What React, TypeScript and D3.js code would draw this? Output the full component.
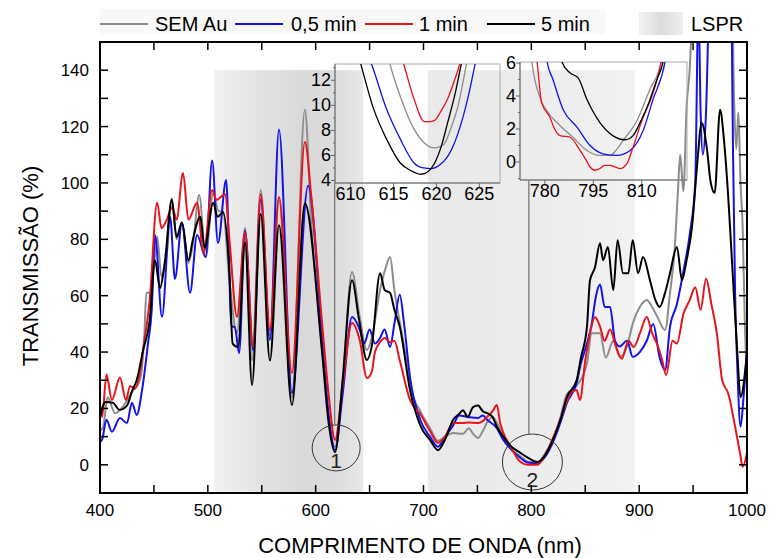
import React from "react";
import * as d3 from "d3";

// ---- main spectra (wavelength nm, transmission %) ----
const semAuNm = [400, 403, 407, 414, 421, 430, 437, 441, 443, 447, 450, 453, 457, 462, 466.6, 471, 476, 482, 486, 492, 498, 505, 510, 514, 520, 527, 534.5, 541, 549, 557.6, 566, 578, 590, 596, 606, 612, 618, 625, 633.7, 641, 647.5, 652, 659.7, 665, 669, 673, 678, 683, 687.5, 697, 706, 713.5, 720, 727.5, 736.6, 742, 746, 750.6, 755, 759, 764, 768, 774, 780, 790, 797, 805.5, 812, 820, 827, 833, 842, 851.6, 856, 863.7, 869, 876, 882, 888.7, 894, 900.6, 907, 912, 917, 924, 928.6, 933, 936, 938, 941, 944, 947, 950, 955, 985, 988, 990, 992, 994, 996, 998, 1000];
const semAuT = [12, 13.5, 24, 18.3, 20.5, 26, 30, 45, 61, 61, 70, 81, 66.7, 75, 94.6, 80, 86, 71.6, 78, 95.7, 73.7, 96.3, 90, 90, 65.5, 46.7, 84, 37, 97.5, 46, 94, 24, 126, 85, 41, 17, 6.5, 30, 68.4, 52, 40.7, 45, 62, 70, 73.7, 62, 50.5, 40, 28, 19, 13, 8.5, 10, 11.3, 11, 13, 11, 9.5, 12, 15, 17, 15, 9.5, 6, 3, 1, 0.8, 3.5, 9, 17, 25, 28, 36, 46.7, 46.7, 38, 44, 38.3, 42, 50, 56, 58.5, 56, 52.4, 47.8, 61, 77, 97.5, 110, 97, 127, 141, 170, 200, 200, 130, 112, 125, 100, 84, 50, 30];

const min05Nm = [400, 402, 406, 411, 418.5, 425, 429.6, 434, 439, 444.5, 448, 451, 457.5, 465, 469.5, 476, 483.5, 490, 498, 504, 509.4, 517, 522, 525, 529, 534.5, 542, 549, 557.6, 566, 578, 593, 606, 612, 618, 625, 633.7, 641, 645, 650, 655, 659.7, 664, 669, 673, 678, 682, 687.5, 697, 706, 713.5, 720, 727.5, 733, 741, 750.6, 755, 759, 768, 774, 780, 790, 797, 805.5, 812, 820, 827, 833, 842, 846, 851.6, 856, 860, 863.7, 868, 873, 877.6, 882, 888.7, 894, 900.6, 907, 913, 919, 924, 928.6, 935, 940.7, 947, 952, 955, 957, 959, 962, 965, 975, 984, 986, 987, 989, 991, 994, 997, 1000];
const min05T = [8, 9, 16, 11.7, 16.6, 14.8, 22, 17.7, 26.5, 43, 55, 81.5, 52.5, 88, 66, 85.7, 61, 81.5, 73.7, 108, 78.7, 101, 49, 49, 39.6, 83, 40.7, 94, 44.3, 119, 25.5, 99, 45, 18, 5.2, 25, 52.4, 47.8, 43, 48, 43, 45, 48, 41.8, 50, 60.3, 50, 31, 16, 10, 6.4, 10, 14, 17.5, 17, 16.6, 17.5, 16, 13, 8.8, 6, 2.4, 0.8, 0.5, 2.5, 8, 15, 22, 29, 36, 43, 50, 60, 64, 56, 56, 44, 42, 44, 38.3, 40, 44, 50, 38, 33.6, 49, 57, 68, 82, 100, 165, 125, 110, 125, 165, 200, 190, 150, 112, 60, 35, 13.5, 25, 40];

const min1Nm = [400, 402, 406, 411, 418.5, 424, 428, 432, 437, 440, 446, 453, 457, 462, 467, 471, 477, 482, 490, 496, 504, 508, 516, 520, 527, 534.5, 542, 549, 557.6, 566, 578, 590, 596, 606, 612, 618, 625, 633.7, 641, 647.5, 652, 655, 659.7, 664, 669, 673, 678, 687.5, 697, 706, 713.5, 720, 727.5, 736.6, 741, 750.6, 755, 759, 764, 768, 771, 774, 780, 790, 797, 805.5, 812, 820, 827, 833, 838, 842, 845, 850, 854.4, 859, 863.7, 868, 873, 878, 884, 890, 895, 901, 907, 912, 917, 921, 925, 931, 935, 941, 947, 952, 957, 962, 967, 972, 977, 982.6, 989, 993.5, 996, 1000];
const min1T = [20, 17, 32, 23, 31, 23, 28, 27, 32.6, 41, 58, 93, 84, 87, 91.5, 87, 103.5, 87, 93, 75, 97.5, 94, 96, 80, 52.5, 82.6, 41.8, 96, 47.8, 95, 32.6, 114.5, 95, 50, 25, 8.8, 28, 50.3, 44, 30.8, 33, 40, 43.5, 45, 43.5, 44, 37, 23, 18, 12, 7.8, 10, 14.8, 14.8, 15, 14.8, 15.5, 17, 19, 21.2, 15, 11.3, 7, 1, 0, 0, 3, 9.5, 16, 22.6, 26, 26.5, 23, 37, 46.7, 52.4, 49, 44, 48, 42.5, 37.6, 44, 41.8, 47, 52.4, 46.7, 42.5, 37.6, 31.9, 44, 43, 53.5, 58.5, 63, 55, 66, 57, 46.7, 30, 25.3, 13.5, 4.2, -0.7, 4.2];

const min5Nm = [400, 405, 412, 418, 425, 430, 434, 440, 446, 451, 455.6, 460, 466.6, 471, 476, 482, 486, 493, 497, 505, 509, 514, 520, 523, 528, 534.5, 541, 549, 557.6, 566, 578, 590, 606, 612, 618, 625, 633.7, 640, 647.5, 652, 659.7, 664, 669, 673, 678, 687.5, 697, 706, 713.5, 720, 727.5, 733, 736.6, 741, 746, 750.6, 755, 759, 764, 768, 774, 780, 790, 797, 805.5, 812, 820, 827, 833, 842, 846, 851.6, 854.4, 859, 863.7, 866.5, 871, 876, 880, 885, 890, 894, 899, 903.6, 910, 915, 919, 924, 928.6, 935, 939.7, 944, 949, 953.6, 958, 963, 966, 970, 975, 978.7, 982.6, 987, 991, 994, 1000];
const min5T = [17, 22.3, 22, 19.5, 21, 26.5, 30, 40.7, 51, 72.6, 62.7, 71.6, 94, 80.8, 86, 72.6, 79.7, 88, 77, 93, 88, 89.6, 68, 43, 41.8, 79, 28.3, 89, 37, 85, 21.2, 92.8, 39.6, 15, 4.5, 30, 65.5, 52, 37.2, 42, 68, 62, 61, 55, 49, 26.5, 14, 8.8, 5.2, 9, 16, 18, 19.4, 17, 20.5, 21, 19, 18.3, 17, 13.5, 10, 7, 4.2, 2.5, 1, 3, 8.8, 16, 24, 30, 38, 49, 65.5, 70, 78.6, 72.6, 77.3, 62, 79.7, 68, 68, 79.7, 68, 73.7, 65.5, 58.5, 56, 61, 68, 77.3, 65.5, 72.6, 84.4, 105.7, 121.3, 111.6, 101, 96.4, 126, 115, 95, 66, 40, 24, 40];

// ---- inset 1 (around 618 nm) ----
const in1SemAuNm = [614, 614.6, 615.8, 617.4, 618.6, 619.8, 620.4, 620.9, 621.7, 622.5, 623.5, 624];
const in1SemAuT = [15, 13.3, 10.7, 8.1, 7.0, 6.6, 6.7, 6.9, 8.2, 9.9, 13.3, 15];
const in1Min05Nm = [611.5, 612.6, 614.2, 615.8, 617.4, 618.5, 619.4, 620.3, 621.3, 622.1, 622.9, 623.8, 624.5, 625];
const in1Min05T = [15, 13, 9.7, 7.3, 5.4, 5.0, 4.95, 5.2, 5.9, 7, 8.6, 11, 13.3, 15];
const in1Min1Nm = [615.5, 616.2, 617.4, 618.6, 619.2, 619.8, 620.5, 621.3, 622.1, 622.7, 623.2];
const in1Min1T = [15, 13.3, 10.5, 8.7, 8.7, 8.8, 9.5, 10.5, 12, 13.3, 15];
const in1Min5Nm = [610.5, 611.2, 612.6, 614.2, 615.8, 617, 618.2, 619, 619.8, 620.6, 621.3, 622.2, 622.9, 623.5];
const in1Min5T = [15, 13.3, 9.9, 7.3, 5.4, 4.8, 4.5, 4.7, 5.4, 6.8, 8.6, 11, 13.3, 15];

// ---- inset 2 (around 800 nm) ----
const in2SemAuNm = [775.5, 776, 778.5, 781, 784.7, 788.7, 793, 797, 800.2, 802, 804.2, 808.5, 812.5, 816, 816.8];
const in2SemAuT = [7, 6.06, 3.9, 3.0, 2.2, 1.5, 0.7, 0.4, 0.4, 0.7, 1.3, 2.5, 4.4, 6.06, 7];
const in2Min05Nm = [780, 780.7, 782.5, 785.6, 790, 794, 798, 802.3, 806.4, 810.4, 813.5, 817.2, 818];
const in2Min05T = [7, 6.06, 5, 3.2, 2.1, 1.0, 0.5, 0.4, 0.7, 1.9, 3.8, 6.06, 7];
const in2Min1Nm = [777, 777.6, 779, 781.6, 783, 784.7, 787.8, 790.9, 792.5, 794, 795.5, 797, 798.5, 800.2, 801.8, 803.3, 805.4, 807.3, 810, 813.5, 816, 816.8];
const in2Min1T = [7, 6.06, 3.6, 2.7, 2.0, 1.6, 1.5, 0.7, 0.2, -0.3, -0.5, -0.4, -0.2, -0.2, -0.3, -0.4, -0.1, 0.9, 2.5, 4.2, 6.06, 7];
const in2Min5Nm = [784.5, 785.3, 787.8, 790.3, 793, 797, 801, 804.8, 807.3, 809.5, 811.6, 814.7, 816.6, 817.5];
const in2Min5T = [7, 6.06, 5.4, 5.1, 3.8, 2.4, 1.6, 1.35, 1.6, 2.4, 3.3, 5, 6.06, 7];

// ---- labels / ticks ----
const legendNames = ["SEM Au", "0,5 min", "1 min", "5 min"];
const seriesColors = ["#8c8c8c", "#1212ee", "#e8141c", "#000000"];
const xTickLabels = [400, 500, 600, 700, 800, 900, 1000];
const xTickAll = [450, 500, 550, 600, 650, 700, 750, 800, 850, 900, 950];
const yTickLabels = [0, 20, 40, 60, 80, 100, 120, 140];
const yTickAll = [0, 10, 20, 30, 40, 50, 60, 70, 80, 90, 100, 110, 120, 130, 140];
const lsprBands = [[506, 644], [704, 896]];
const lsprTop = 140;
const in1XLabels = [610, 615, 620, 625];
const in1YLabels = [4, 6, 8, 10, 12];
const in2XLabels = [780, 795, 810];
const in2YLabels = [0, 2, 4, 6];
const markers = [
  { label: "1", nm: 619, t: 6, rx: 24, ry: 23, lineNm: 617.6 },
  { label: "2", nm: 801, t: 1, rx: 30, ry: 28, lineNm: 797.7 },
];

const FONT = "'Liberation Sans', Arial, sans-serif";

function path(nm: number[], t: number[], xs: any, ys: any) {
  return d3
    .line<number>()
    .x((_, i) => xs(nm[i]))
    .y((d) => ys(d))
    .curve(d3.curveMonotoneX)(t) as string;
}

export default function App() {
  const x = d3.scaleLinear().domain([400, 1000]).range([100, 747]);
  const y = d3.scaleLinear().domain([-10, 150]).range([493, 42]);

  const main = [
    [semAuNm, semAuT],
    [min05Nm, min05T],
    [min1Nm, min1T],
    [min5Nm, min5T],
  ];
  const ins1 = [
    [in1SemAuNm, in1SemAuT],
    [in1Min05Nm, in1Min05T],
    [in1Min1Nm, in1Min1T],
    [in1Min5Nm, in1Min5T],
  ];
  const ins2 = [
    [in2SemAuNm, in2SemAuT],
    [in2Min05Nm, in2Min05T],
    [in2Min1Nm, in2Min1T],
    [in2Min5Nm, in2Min5T],
  ];

  const x1 = d3.scaleLinear().domain([608.2, 627.4]).range([335, 500]);
  const y1 = d3.scaleLinear().domain([3.8, 13.3]).range([183, 64]);
  const x2 = d3.scaleLinear().domain([772.3, 824]).range([520, 687]);
  const y2 = d3.scaleLinear().domain([-1.09, 6.06]).range([180, 62]);

  const insets = [
    { id: "in1", xs: x1, ys: y1, data: ins1, xl: in1XLabels, yl: in1YLabels, ym: [5, 7, 9, 11, 13] },
    { id: "in2", xs: x2, ys: y2, data: ins2, xl: in2XLabels, yl: in2YLabels, ym: [-1, 1, 3, 5] },
  ];

  const legendX = [100, 235, 365, 487];
  const legendTextX = [155, 291, 419, 541];

  return (
    <svg width={769} height={558} style={{ position: "absolute", left: 0, top: 0, background: "#fff" }} fontFamily={FONT}>
      <defs>
        <clipPath id="plotClip">
          <rect x={100} y={42} width={647} height={451} />
        </clipPath>
        {insets.map((s) => (
          <clipPath key={s.id} id={s.id + "Clip"}>
            <rect x={s.xs.range()[0]} y={s.ys.range()[1]} width={s.xs.range()[1] - s.xs.range()[0]} height={s.ys.range()[0] - s.ys.range()[1]} />
          </clipPath>
        ))}
        <linearGradient id="band0" x1="0" x2="1" y1="0" y2="0">
          <stop offset="0%" stopColor="#f1f1f1" />
          <stop offset="30%" stopColor="#e3e3e3" />
          <stop offset="60%" stopColor="#d9d9d9" />
          <stop offset="85%" stopColor="#dedede" />
          <stop offset="100%" stopColor="#e8e8e8" />
        </linearGradient>
        <linearGradient id="band1" x1="0" x2="1" y1="0" y2="0">
          <stop offset="0%" stopColor="#e9e9e9" />
          <stop offset="50%" stopColor="#ececec" />
          <stop offset="100%" stopColor="#f2f2f2" />
        </linearGradient>
        <linearGradient id="lsprLeg" x1="0" x2="1" y1="0" y2="0">
          <stop offset="0%" stopColor="#f2f2f2" />
          <stop offset="50%" stopColor="#dcdcdc" />
          <stop offset="100%" stopColor="#efefef" />
        </linearGradient>
      </defs>

      {/* legend */}
      <rect x={100} y={9} width={505} height={25} fill="#f8f8f8" />
      {legendNames.map((n, i) => (
        <g key={n}>
          <line x1={legendX[i]} x2={legendX[i] + 48} y1={24} y2={24} stroke={seriesColors[i]} strokeWidth={2} />
          <text x={legendTextX[i]} y={31} fontSize={20} fill="#000">{n}</text>
        </g>
      ))}
      <rect x={639} y={12} width={44} height={23} fill="url(#lsprLeg)" />
      <text x={691} y={31} fontSize={20}>LSPR</text>

      {/* LSPR bands */}
      {lsprBands.map((b, i) => (
        <rect key={i} x={x(b[0])} y={y(lsprTop)} width={x(b[1]) - x(b[0])} height={y(-10) - y(lsprTop)} fill={`url(#band${i})`} />
      ))}

      {/* main curves */}
      <g clipPath="url(#plotClip)">
        {main.map((s, i) => (
          <path key={i} d={path(s[0], s[1], x, y)} fill="none" stroke={seriesColors[i]} strokeWidth={2} strokeLinejoin="round" />
        ))}
      </g>

      {/* markers */}
      {markers.map((m, i) => (
        <g key={m.label}>
          <ellipse cx={x(m.nm)} cy={y(m.t)} rx={m.rx} ry={m.ry} fill="none" stroke="#333" strokeWidth={1} />
          <line x1={x(m.lineNm)} x2={x(m.lineNm)} y1={(i === 0 ? y1 : y2).range()[0]} y2={y(m.t) - m.ry} stroke="#777" strokeWidth={1.3} />
          <text x={x(m.nm)} y={y(m.t) + m.ry - 3} fontSize={21} textAnchor="middle" fill="#222">{m.label}</text>
        </g>
      ))}

      {/* insets */}
      {insets.map((s) => {
        const [xa, xb] = s.xs.range();
        const [yb, ya] = s.ys.range();
        return (
          <g key={s.id}>
            <rect x={xa} y={ya} width={xb - xa} height={yb - ya} fill="none" stroke="#aaa" strokeWidth={1} />
            <line x1={xa} x2={xa} y1={ya} y2={yb} stroke="#666" strokeWidth={1} />
            <line x1={xa} x2={xb} y1={yb} y2={yb} stroke="#666" strokeWidth={1} />
            <g clipPath={`url(#${s.id}Clip)`}>
              {s.data.map((d, i) => (
                <path key={i} d={path(d[0], d[1], s.xs, s.ys)} fill="none" stroke={seriesColors[i]} strokeWidth={1.3} />
              ))}
            </g>
            {s.yl.map((v) => (
              <g key={"y" + v}>
                <line x1={xa - 4} x2={xa} y1={s.ys(v)} y2={s.ys(v)} stroke="#666" />
                <text x={xa - 4} y={s.ys(v) + 6} fontSize={18} textAnchor="end">{v}</text>
              </g>
            ))}
            {s.ym.map((v) => (
              <line key={"m" + v} x1={xa - 2} x2={xa} y1={s.ys(v)} y2={s.ys(v)} stroke="#666" />
            ))}
            {s.xl.map((v) => (
              <g key={"x" + v}>
                <line x1={s.xs(v)} x2={s.xs(v)} y1={yb} y2={yb + 4} stroke="#666" />
                <text x={s.xs(v)} y={yb + 17} fontSize={18} textAnchor="middle">{v}</text>
              </g>
            ))}
          </g>
        );
      })}

      {/* frame and ticks */}
      <rect x={100} y={42} width={647} height={451} fill="none" stroke="#000" strokeWidth={2} />
      {xTickAll.map((v) => (
        <g key={"xt" + v}>
          <line x1={x(v)} x2={x(v)} y1={493} y2={485} stroke="#000" strokeWidth={1.5} />
          <line x1={x(v)} x2={x(v)} y1={42} y2={50} stroke="#000" strokeWidth={1.5} />
        </g>
      ))}
      {yTickAll.map((v) => (
        <g key={"yt" + v}>
          <line x1={100} x2={108} y1={y(v)} y2={y(v)} stroke="#000" strokeWidth={1.5} />
          <line x1={747} x2={739} y1={y(v)} y2={y(v)} stroke="#000" strokeWidth={1.5} />
        </g>
      ))}
      {xTickLabels.map((v) => (
        <text key={"xl" + v} x={x(v)} y={516} fontSize={17} textAnchor="middle">{v}</text>
      ))}
      {yTickLabels.map((v) => (
        <text key={"yl" + v} x={89} y={y(v) + 6} fontSize={17} textAnchor="end">{v}</text>
      ))}

      <text x={420} y={553} fontSize={22} textAnchor="middle">COMPRIMENTO DE ONDA (nm)</text>
      <text transform="translate(38,266) rotate(-90)" fontSize={22} textAnchor="middle">TRANSMISSÃO (%)</text>
    </svg>
  );
}
